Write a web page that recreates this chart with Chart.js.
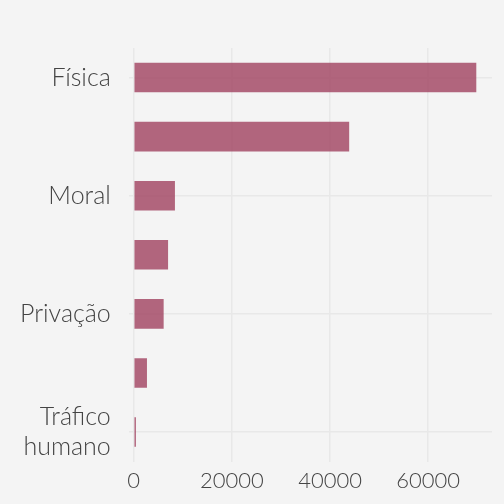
<!DOCTYPE html>
<html><head><meta charset="utf-8">
<script src="https://cdn.jsdelivr.net/npm/chart.js"></script>
<style>html,body{margin:0;background:#f4f4f4}#c{width:504px;height:504px}</style>
</head><body><div id="c"><canvas id="chart"></canvas></div>
<script>
const categories = ['Física', 'Psicossocial', 'Moral', 'Sexual', 'Privação', 'Propriedade', ['Tráfico', 'humano']];
const values = [69800, 43900, 8400, 7000, 6100, 2700, 450];
const xTicks = [0, 20000, 40000, 60000];

new Chart(document.getElementById('chart'), {
    type: 'bar',
    data: {
        labels: categories,
        datasets: [{
            data: values,
            backgroundColor: 'rgba(160,65,95,0.8)',
            categoryPercentage: 1,
            barPercentage: 0.5
        }]
    },
    options: {
        indexAxis: 'y',
        responsive: true,
        maintainAspectRatio: false,
        animation: false,
        layout: { padding: { top: 0, right: 12, bottom: 4, left: 2 } },
        plugins: { legend: { display: false }, tooltip: { enabled: false } },
        scales: {
            x: {
                min: -1000, max: 73000,
                afterBuildTicks: axis => { axis.ticks = xTicks.map(v => ({ value: v })); },
                grid: { color: '#e8e8e8', lineWidth: 1.5, drawTicks: false },
                border: { display: false },
                ticks: { color: '#444', padding: 6, callback: v => String(v), font: { family: 'Lato', weight: 300, size: 22 } }
            },
            y: {
                grid: { color: '#e8e8e8', lineWidth: 1.5, drawTicks: false, offset: false },
                border: { display: false },
                ticks: { color: '#444', padding: 18, font: { family: 'Lato', weight: 300, size: 25 }, lineHeight: 1 }
            }
        }
    }
});
</script></body></html>
